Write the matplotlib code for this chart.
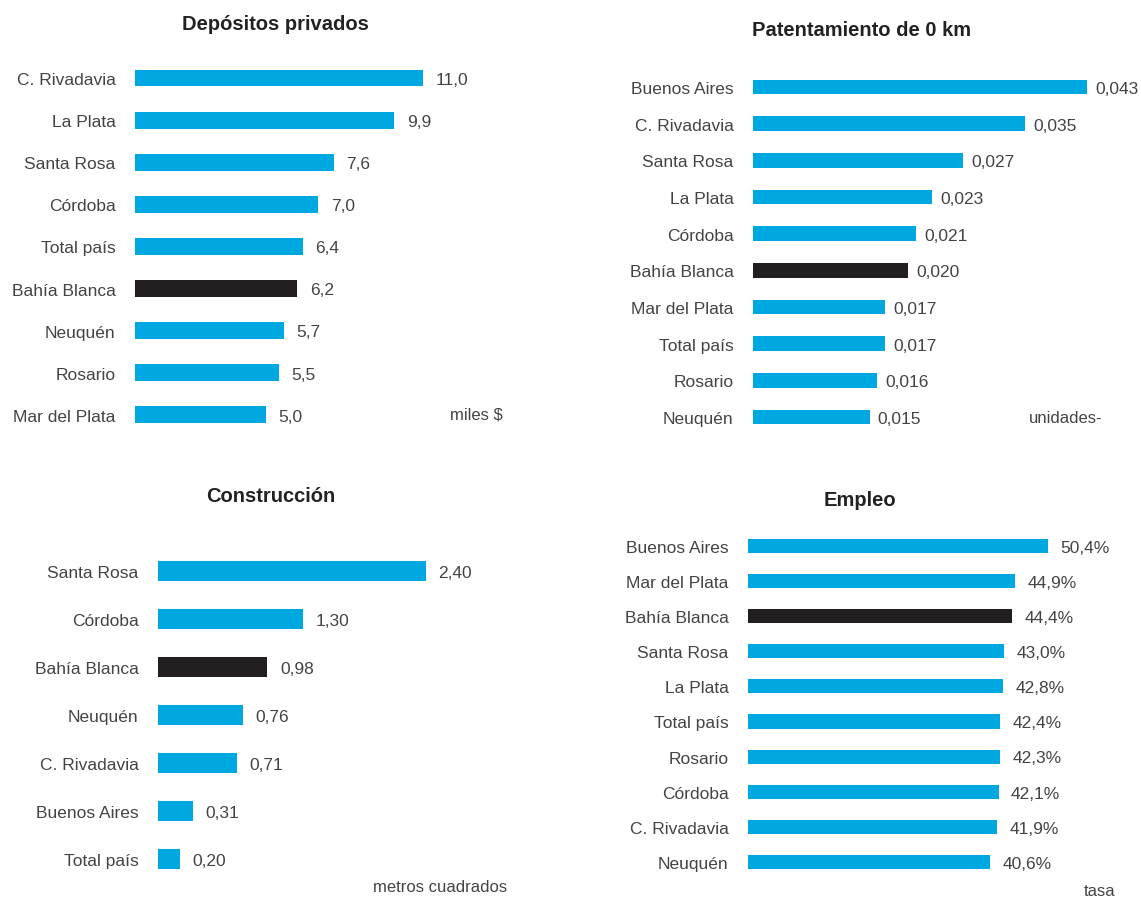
import matplotlib.pyplot as plt

plt.rcParams['font.family'] = ['Liberation Sans', 'DejaVu Sans']

W, H = 1141, 903
BLUE = '#00A8E1'
DARK = '#231F20'
TXT = '#444444'

dep_cat = ['C. Rivadavia', 'La Plata', 'Santa Rosa', 'Córdoba', 'Total país',
           'Bahía Blanca', 'Neuquén', 'Rosario', 'Mar del Plata']
dep_val = [11.0, 9.9, 7.6, 7.0, 6.4, 6.2, 5.7, 5.5, 5.0]

pat_cat = ['Buenos Aires', 'C. Rivadavia', 'Santa Rosa', 'La Plata', 'Córdoba',
           'Bahía Blanca', 'Mar del Plata', 'Total país', 'Rosario', 'Neuquén']
pat_val = [0.043, 0.035, 0.027, 0.023, 0.021, 0.020, 0.017, 0.017, 0.016, 0.015]

con_cat = ['Santa Rosa', 'Córdoba', 'Bahía Blanca', 'Neuquén', 'C. Rivadavia',
           'Buenos Aires', 'Total país']
con_val = [2.40, 1.30, 0.98, 0.76, 0.71, 0.31, 0.20]

emp_cat = ['Buenos Aires', 'Mar del Plata', 'Bahía Blanca', 'Santa Rosa', 'La Plata',
           'Total país', 'Rosario', 'Córdoba', 'C. Rivadavia', 'Neuquén']
emp_val = [50.4, 44.9, 44.4, 43.0, 42.8, 42.4, 42.3, 42.1, 41.9, 40.6]

fig = plt.figure(figsize=(W / 100, H / 100), dpi=100)


def panel(cats, vals, fmt, x0, px_per_unit, row0, step, title, tpos, unit, upos, off=9):
    n = len(cats)
    width_px = 380
    top = row0 - step / 2
    h = step * n
    ax = fig.add_axes([x0 / W, 1 - (top + h) / H, width_px / W, h / H])
    colors = [DARK if c == 'Bahía Blanca' else BLUE for c in cats]
    y = list(range(n))
    ax.barh(y, vals, height=0.4, color=colors)
    ax.set_xlim(0, width_px / px_per_unit)
    ax.set_ylim(n - 0.5, -0.5)
    ax.set_yticks(y)
    ax.set_yticklabels(cats, fontsize=12.5, color=TXT)
    ax.tick_params(axis='y', length=0, pad=14)
    ax.set_xticks([])
    for s in ax.spines.values():
        s.set_visible(False)
    ax.patch.set_alpha(0)
    for i, v in enumerate(vals):
        ax.annotate(fmt(v), (v, i), xytext=(off, -1), textcoords='offset points',
                    va='center', ha='left', fontsize=12.5, color=TXT,
                    annotation_clip=False)
    fig.text(tpos[0] / W, 1 - tpos[1] / H, title, ha='center', va='center',
             fontsize=14.5, fontweight='bold', color='#222222')
    fig.text(upos[0] / W, 1 - upos[1] / H, unit, ha='left', va='center',
             fontsize=12, color=TXT)


panel(dep_cat, dep_val, lambda v: f'{v:.1f}'.replace('.', ','),
      135, 288 / 11.0, 79, 42.1, 'Depósitos privados', (275, 25), 'miles $', (450, 415))
panel(pat_cat, pat_val, lambda v: f'{v:.3f}'.replace('.', ','),
      753, 334 / 0.043, 88, 36.67, 'Patentamiento de 0 km', (862, 30), 'unidades-', (1029, 419),
      off=6)
panel(con_cat, con_val, lambda v: f'{v:.2f}'.replace('.', ','),
      158, 268 / 2.40, 572, 48.0, 'Construcción', (271, 497), 'metros cuadrados', (373, 888))
panel(emp_cat, emp_val, lambda v: f'{v:.1f}%'.replace('.', ','),
      748, 300 / 50.4, 547, 35.1, 'Empleo', (860, 501), 'tasa', (1084, 892))

fig.savefig('out.png', dpi=100)
